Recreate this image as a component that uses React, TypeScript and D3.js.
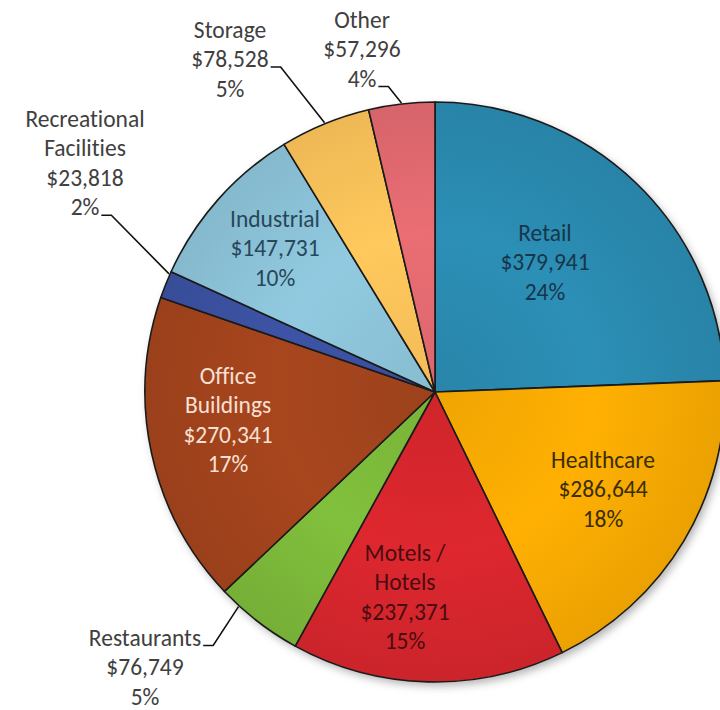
import React, { useEffect, useRef } from 'react';
import * as d3 from 'd3';

// ---- data ----
const categories = [
  'Retail', 'Healthcare', 'Motels / Hotels', 'Restaurants', 'Office Buildings',
  'Recreational Facilities', 'Industrial', 'Storage', 'Other',
];
const nameLines = [
  ['Retail'], ['Healthcare'], ['Motels /', 'Hotels'], ['Restaurants'], ['Office', 'Buildings'],
  ['Recreational', 'Facilities'], ['Industrial'], ['Storage'], ['Other'],
];
const values = [379941, 286644, 237371, 76749, 270341, 23818, 147731, 78528, 57296];
const percentLabels = ['24%', '18%', '15%', '5%', '17%', '2%', '10%', '5%', '4%'];

// ---- style / layout ----
const W = 720, H = 710;
const CX = 435, CY = 392, R = 290;
const colors = ['#2a8ab0', '#f8aa02', '#d6262d', '#7cb93a', '#a2441d', '#3b51a0', '#8cc3d8', '#fbc25a', '#e26a70'];
const textColors = ['#17364a', '#3a2e05', '#4a0c10', '#404040', '#f8e0d4', '#404040', '#27475a', '#404040', '#404040'];
// label block centre relative to pie centre
const labelOffsets: [number, number][] = [
  [110, -130], [168, 97], [-30, 205], [-290, 275], [-207, 28],
  [-350, -229], [-160, -144], [-205, -333], [-73, -343],
];
// outside labels: which line carries the leader, and where in the slice (0..1) it ends
const leaderLine = [-1, -1, -1, 0, -1, 3, -1, 1, 2];
const leaderT = [0, 0, 0, 0.77, 0, 0.9, 0, 0.5, 0.5];
const FONT = 'Carlito, Lato, "Open Sans", sans-serif';
const FS = 23.5;
const LH = 29.5;

export default function App() {
  const ref = useRef<SVGSVGElement | null>(null);

  useEffect(() => {
    const svg = d3.select(ref.current);
    svg.selectAll('*').remove();
    svg.append('rect').attr('width', W).attr('height', H).attr('fill', '#ffffff');

    const defs = svg.append('defs');
    const f = defs.append('filter').attr('id', 'shadow').attr('x', '-20%').attr('y', '-20%').attr('width', '140%').attr('height', '140%');
    f.append('feDropShadow').attr('dx', 3).attr('dy', 4).attr('stdDeviation', 4)
      .attr('flood-color', '#000').attr('flood-opacity', 0.3);

    colors.forEach((c, i) => {
      const g = defs.append('radialGradient').attr('id', `grad${i}`)
        .attr('gradientUnits', 'userSpaceOnUse').attr('cx', 0).attr('cy', 0).attr('r', R);
      const base = d3.color(c)!;
      g.append('stop').attr('offset', '0%').attr('stop-color', base.darker(0.1).formatHex());
      g.append('stop').attr('offset', '55%').attr('stop-color', base.brighter(0.1).formatHex());
      g.append('stop').attr('offset', '100%').attr('stop-color', base.darker(0.15).formatHex());
    });

    const pie = d3.pie<number>().sort(null).value((d) => d)(values);
    const arc = d3.arc<d3.PieArcDatum<number>>().innerRadius(0).outerRadius(R);
    const fmt = d3.format('$,');

    const g = svg.append('g').attr('transform', `translate(${CX},${CY})`);
    g.append('circle').attr('r', R).attr('fill', '#fff').attr('filter', 'url(#shadow)');
    g.selectAll('path.slice').data(pie).enter().append('path')
      .attr('class', 'slice')
      .attr('d', arc as any)
      .attr('fill', (_d, i) => `url(#grad${i})`)
      .attr('stroke', '#1a1a1a')
      .attr('stroke-width', 1.6)
      .attr('stroke-linejoin', 'round');

    pie.forEach((p, i) => {
      const lines = [...nameLines[i], fmt(values[i]), percentLabels[i]];
      const [ox, oy] = labelOffsets[i];
      const top = oy - ((lines.length - 1) * LH) / 2;
      const texts: any[] = [];
      lines.forEach((ln, k) => {
        const t = g.append('text')
          .attr('x', ox).attr('y', top + k * LH)
          .attr('text-anchor', 'middle').attr('dominant-baseline', 'central')
          .attr('font-family', FONT).attr('font-size', FS)
          .style('font-variant-ligatures', 'none')
          .attr('fill', textColors[i]).text(ln);
        texts.push(t);
      });
      if (leaderLine[i] >= 0) {
        const t = texts[leaderLine[i]];
        const w = (t.node() as SVGTextElement).getComputedTextLength();
        const x0 = ox + w / 2 + 2;
        const y0 = top + leaderLine[i] * LH + 8;
        const a = p.startAngle + (p.endAngle - p.startAngle) * leaderT[i];
        const x2 = Math.sin(a) * (R + 1);
        const y2 = -Math.cos(a) * (R + 1);
        const path = d3.path();
        path.moveTo(x0, y0);
        path.lineTo(x0 + 10, y0);
        path.lineTo(x2, y2);
        g.append('path').attr('d', path.toString()).attr('fill', 'none')
          .attr('stroke', '#111').attr('stroke-width', 1.6);
      }
    });
  }, []);

  return (
    <svg ref={ref} width={W} height={H} style={{ position: 'absolute', left: 0, top: 0, display: 'block' }} />
  );
}
